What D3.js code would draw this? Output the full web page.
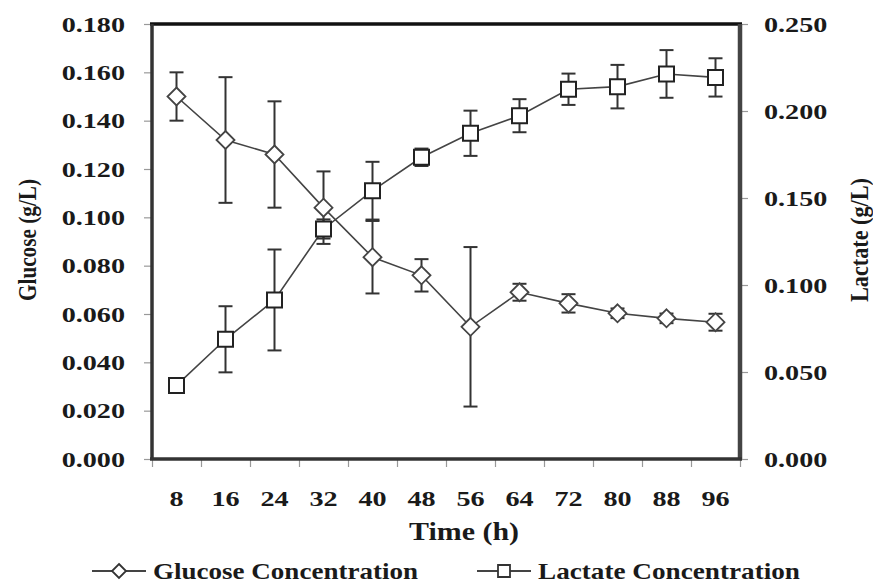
<!DOCTYPE html>
<html lang="en">
<head>
  <meta charset="UTF-8">
  <title>Glucose and Lactate</title>
  <script src="https://d3js.org/d3.v7.min.js"></script>
  <style>
    body { margin: 0; background: #fff; }
    text {
      font-family: "Liberation Serif", "Times New Roman", serif;
      font-weight: bold;
      fill: #1a1a1a;
    }
    .domain { display: none; }
  </style>
</head>
<body>
  <div id="chart"></div>
  <script>
    const width = 873, height = 584;

    const times = ["8", "16", "24", "32", "40", "48", "56", "64", "72", "80", "88", "96"];
    const glucose = [0.150, 0.132, 0.126, 0.104, 0.0835, 0.076, 0.0547, 0.069, 0.0644, 0.0603, 0.0582, 0.0566];
    const glucoseErr = [0.010, 0.026, 0.022, 0.015, 0.015, 0.0067, 0.033, 0.0035, 0.0038, 0.002, 0.002, 0.0035];
    const lactate = [0.0423, 0.0688, 0.0914, 0.1322, 0.1542, 0.1734, 0.1872, 0.1973, 0.2125, 0.2140, 0.2213, 0.2193];
    const lactateErr = [0.001, 0.019, 0.029, 0.0055, 0.0166, 0.005, 0.013, 0.0095, 0.009, 0.0125, 0.0137, 0.011];
    const glucoseTicks = [0, 0.02, 0.04, 0.06, 0.08, 0.10, 0.12, 0.14, 0.16, 0.18];
    const lactateTicks = [0, 0.05, 0.10, 0.15, 0.20, 0.25];

    const pLeft = 152, pRight = 740, pTop = 24, pBottom = 459;
    const stretch = 1.28;

    const svg = d3.select("#chart").append("svg")
      .attr("width", width)
      .attr("height", height);

    const x = d3.scaleBand().domain(times).range([pLeft, pRight]);
    const xb = d3.scaleLinear().domain([0, times.length]).range([pLeft, pRight]);
    const yL = d3.scaleLinear().domain([0, 0.18]).range([pBottom, pTop]);
    const yR = d3.scaleLinear().domain([0, 0.25]).range([pBottom, pTop]);

    // widen glyphs like the original (it was stretched horizontally)
    function widen(sel, f) {
      sel.each(function() {
        const w = this.getComputedTextLength();
        d3.select(this).attr("textLength", w * f).attr("lengthAdjust", "spacingAndGlyphs");
      });
    }

    // axes
    const gl = svg.append("g").attr("transform", `translate(${pLeft},0)`)
      .call(d3.axisLeft(yL).tickValues(glucoseTicks).tickFormat(d3.format(".3f")).tickSize(8).tickPadding(19));
    const gr = svg.append("g").attr("transform", `translate(${pRight},0)`)
      .call(d3.axisRight(yR).tickValues(lactateTicks).tickFormat(d3.format(".3f")).tickSize(8).tickPadding(16));
    const gb = svg.append("g").attr("transform", `translate(0,${pBottom})`)
      .call(d3.axisBottom(xb).tickValues(d3.range(times.length + 1)).tickFormat("").tickSize(8));
    const gx = svg.append("g").attr("transform", `translate(0,${pBottom})`)
      .call(d3.axisBottom(x).tickSize(0).tickPadding(31));

    [gl, gr, gb, gx].forEach(g => {
      g.selectAll(".tick line").attr("stroke", "#999").attr("stroke-width", 1.2);
      g.selectAll("text").style("font-size", "22px").attr("fill", "#1a1a1a");
    });
    widen(gl.selectAll("text"), stretch);
    widen(gr.selectAll("text"), stretch);
    widen(gx.selectAll("text"), stretch);

    // frame
    svg.append("line").attr("x1", pLeft - 2).attr("x2", pRight + 2).attr("y1", pTop).attr("y2", pTop)
      .attr("stroke", "#111").attr("stroke-width", 3.5);
    svg.append("line").attr("x1", pLeft).attr("x2", pLeft).attr("y1", pTop).attr("y2", pBottom)
      .attr("stroke", "#333").attr("stroke-width", 3.5);
    svg.append("line").attr("x1", pRight).attr("x2", pRight).attr("y1", pTop).attr("y2", pBottom)
      .attr("stroke", "#444").attr("stroke-width", 4.5);
    svg.append("line").attr("x1", pLeft - 2).attr("x2", pRight + 2).attr("y1", pBottom).attr("y2", pBottom)
      .attr("stroke", "#333").attr("stroke-width", 3.5);

    const cx = (d, i) => x(times[i]) + x.bandwidth() / 2;

    // connecting lines
    const lineG = d3.line().x((d, i) => cx(d, i)).y(d => yL(d));
    const lineL = d3.line().x((d, i) => cx(d, i)).y(d => yR(d));
    svg.append("path").attr("d", lineL(lactate)).attr("fill", "none").attr("stroke", "#444").attr("stroke-width", 1.6);
    svg.append("path").attr("d", lineG(glucose)).attr("fill", "none").attr("stroke", "#444").attr("stroke-width", 1.6);

    // error bars
    function errorBars(vals, errs, y) {
      const g = svg.append("g").attr("stroke", "#333").attr("stroke-width", 2).attr("fill", "none");
      vals.forEach((v, i) => {
        const px = cx(v, i), y0 = y(v - errs[i]), y1 = y(v + errs[i]);
        g.append("line").attr("x1", px).attr("x2", px).attr("y1", y0).attr("y2", y1);
        g.append("line").attr("x1", px - 7).attr("x2", px + 7).attr("y1", y0).attr("y2", y0);
        g.append("line").attr("x1", px - 7).attr("x2", px + 7).attr("y1", y1).attr("y2", y1);
      });
    }
    errorBars(glucose, glucoseErr, yL);
    errorBars(lactate, lactateErr, yR);

    const diamond = "M0,-9L9,0L0,9L-9,0Z";
    const square = "M-7.5,-7.5H7.5V7.5H-7.5Z";

    svg.append("g").selectAll("path").data(lactate).join("path")
      .attr("d", square)
      .attr("transform", (d, i) => `translate(${cx(d, i)},${yR(d)})`)
      .attr("fill", "#fff").attr("stroke", "#222").attr("stroke-width", 2);
    svg.append("g").selectAll("path").data(glucose).join("path")
      .attr("d", diamond)
      .attr("transform", (d, i) => `translate(${cx(d, i)},${yL(d)})`)
      .attr("fill", "#fff").attr("stroke", "#444").attr("stroke-width", 1.8);

    // axis titles
    svg.append("text").attr("x", 464).attr("y", 540).attr("text-anchor", "middle")
      .style("font-size", "25px").attr("fill", "#333")
      .attr("textLength", 110).attr("lengthAdjust", "spacingAndGlyphs").text("Time (h)");
    svg.append("text").attr("transform", "translate(36,240) rotate(-90) scale(1,1.3)").attr("text-anchor", "middle")
      .style("font-size", "19px").attr("textLength", 122).attr("lengthAdjust", "spacingAndGlyphs")
      .text("Glucose (g/L)");
    svg.append("text").attr("transform", "translate(868,240) rotate(-90) scale(1,1.3)").attr("text-anchor", "middle")
      .style("font-size", "19px").attr("textLength", 124).attr("lengthAdjust", "spacingAndGlyphs")
      .text("Lactate (g/L)");

    // legend
    const legend = [
      { name: "Glucose Concentration", shape: "diamond", x1: 92, x2: 146, tx: 153, width: 265 },
      { name: "Lactate Concentration", shape: "square", x1: 477, x2: 531, tx: 538, width: 262 }
    ];
    const legY = 571;
    legend.forEach(d => {
      const mx = (d.x1 + d.x2) / 2;
      svg.append("line").attr("x1", d.x1).attr("x2", d.x2).attr("y1", legY).attr("y2", legY)
        .attr("stroke", "#444").attr("stroke-width", 2);
      svg.append("path").attr("d", d.shape === "diamond" ? "M0,-7L7,0L0,7L-7,0Z" : "M-6,-6H6V6H-6Z")
        .attr("transform", `translate(${mx},${legY})`)
        .attr("fill", "#fff").attr("stroke", "#333").attr("stroke-width", 1.8);
      svg.append("text").attr("x", d.tx).attr("y", 579).style("font-size", "23px")
        .attr("textLength", d.width).attr("lengthAdjust", "spacingAndGlyphs").text(d.name);
    });
  </script>
</body>
</html>
